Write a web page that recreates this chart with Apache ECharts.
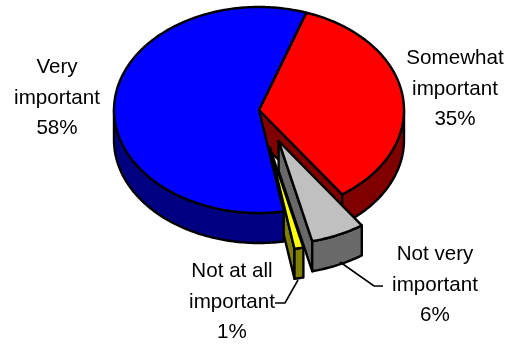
<!DOCTYPE html>
<html>
<head>
<meta charset="utf-8">
<style>html,body{margin:0;padding:0;background:#fff}#c{width:517px;height:344px}</style>
<script src="https://cdn.jsdelivr.net/npm/echarts@6/dist/echarts.min.js"></script>
</head>
<body>
<div id="c"></div>
<script>
// Data
var categories = ['Very important', 'Somewhat important', 'Not very important', 'Not at all important'];
var values = [58, 35, 6, 1];

// Styles and layout, kept apart from the data
var topColors = ['#0000FF', '#FF0000', '#C0C0C0', '#FFFF00'];
var wallColors = ['#000080', '#800000', '#696969', '#808000'];
var explode = [0, 0, 0.33, 0.37];
var labelPos = [[57, 98], [455, 89], [435, 285], [232, 302]];
var leaders = [null, null, [[340, 262], [374, 286], [383, 286]], [[298, 280], [285, 303], [275, 303]]];
var paintOrder = [1, 3, 0, 2];
var cx = 259, cy = 110, rx = 145, ry = 103, depth = 30, startAngle = 170.2;

var total = values.reduce(function (a, b) { return a + b; }, 0);
var spans = [], acc = startAngle;
values.forEach(function (v) { var e = acc + v / total * 360; spans.push([acc, e]); acc = e; });

function pt(a, ox, oy, drop) {
  var r = a * Math.PI / 180;
  return [cx + ox + rx * Math.sin(r), cy + oy - ry * Math.cos(r) + (drop || 0)];
}
function arc(a0, a1, ox, oy, drop) {
  var out = [], n = Math.max(2, Math.ceil(Math.abs(a1 - a0)));
  for (var i = 0; i <= n; i++) out.push(pt(a0 + (a1 - a0) * i / n, ox, oy, drop));
  return out;
}
var lineStyle = { stroke: '#000', lineWidth: 2.4, lineJoin: 'round' };
function poly(points, fill) {
  return { type: 'polygon', shape: { points: points }, style: Object.assign({ fill: fill }, lineStyle) };
}

function renderItem(params, api) {
  var i = api.value(0), s = spans[i], children = [];
  var mid = (s[0] + s[1]) / 2 * Math.PI / 180;
  var ox = rx * Math.sin(mid) * explode[i], oy = -ry * Math.cos(mid) * explode[i];
  var next = (i + 1) % values.length;
  var endRad = s[1] * Math.PI / 180;
  // radial wall on the slice's trailing edge, only where it faces the viewer and is exposed
  if (Math.sin(endRad) > 0 && explode[i] !== explode[next] || (Math.sin(endRad) > 0 && explode[i] > 0)) {
    var a = [cx + ox, cy + oy], b = pt(s[1], ox, oy);
    children.push(poly([a, b, [b[0], b[1] + depth], [a[0], a[1] + depth]], wallColors[i]));
  }
  // outer curved wall: front half of the rim only
  for (var k = 0; k < 3; k++) {
    var lo = Math.max(s[0], 90 + 360 * k), hi = Math.min(s[1], 270 + 360 * k);
    if (hi > lo) {
      children.push(poly(arc(lo, hi, ox, oy).concat(arc(hi, lo, ox, oy, depth)), wallColors[i]));
    }
  }
  // top surface
  children.push(poly([[cx + ox, cy + oy]].concat(arc(s[0], s[1], ox, oy)), topColors[i]));
  // leader line
  if (leaders[i]) {
    children.push({ type: 'polyline', shape: { points: leaders[i] }, style: { stroke: '#000', lineWidth: 1.6, fill: null } });
  }
  // label
  var name = categories[i], sp = name.lastIndexOf(' ');
  children.push({
    type: 'text', x: labelPos[i][0], y: labelPos[i][1],
    style: {
      text: name.slice(0, sp) + '\n' + name.slice(sp + 1) + '\n' + values[i] + '%',
      fill: '#000', font: '20.6px "Liberation Sans", Arial, sans-serif',
      lineHeight: 30.5, align: 'center', verticalAlign: 'middle', backgroundColor: 'transparent'
    }
  });
  return { type: 'group', children: children };
}

var chart = echarts.init(document.getElementById('c'), null, { renderer: 'canvas' });
chart.setOption({
  animation: false,
  backgroundColor: '#fff',
  series: [{
    type: 'custom',
    coordinateSystem: 'none',
    renderItem: renderItem,
    silent: true,
    data: paintOrder.map(function (i) { return [i]; })
  }]
});
</script>
</body>
</html>
